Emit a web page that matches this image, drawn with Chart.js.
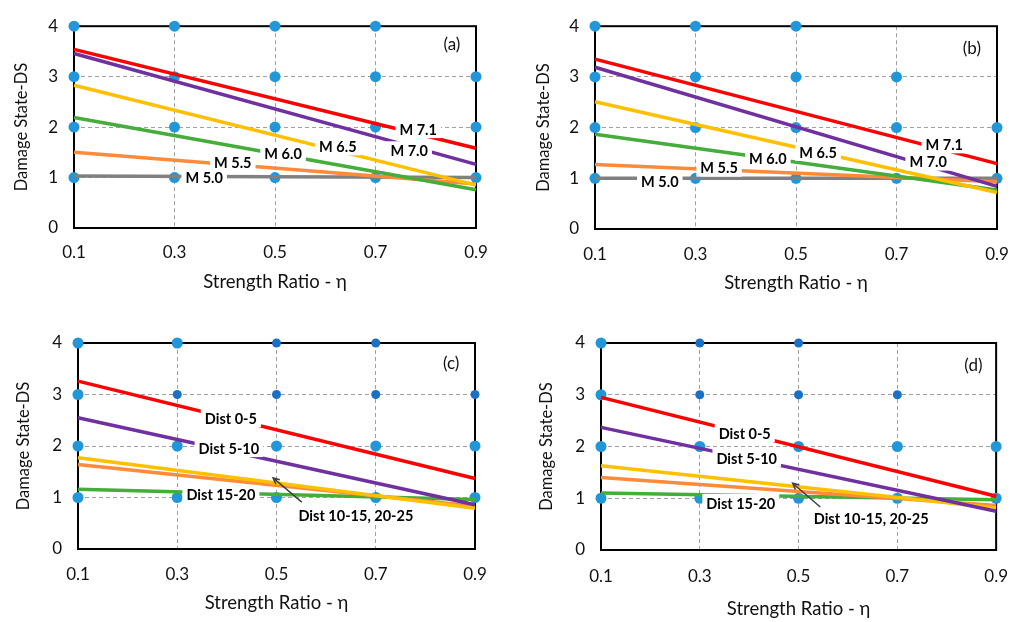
<!DOCTYPE html>
<html>
<head>
<meta charset="utf-8">
<script src="https://cdn.jsdelivr.net/npm/chart.js@4.4.0/dist/chart.umd.min.js"></script>
<style>
  body { margin: 0; background: #fff; }
  #wrap { position: relative; width: 1024px; height: 622px; }
  canvas { position: absolute; }
</style>
</head>
<body>
<div id="wrap">
  <canvas id="pa" width="512" height="311" style="left:0;top:0"></canvas>
  <canvas id="pb" width="512" height="311" style="left:512px;top:0"></canvas>
  <canvas id="pc" width="512" height="311" style="left:0;top:311px"></canvas>
  <canvas id="pd" width="512" height="311" style="left:512px;top:311px"></canvas>
</div>
<script>
Chart.defaults.font.family = "Lato, 'Open Sans', sans-serif";
Chart.defaults.color = "#111";

const etaEnds = [0.1, 0.9];
const etaTicks = [0.1, 0.3, 0.5, 0.7, 0.9];

// magnitude panels (a), (b): red, purple, yellow, green, orange, gray
const magNames = ["M 7.1", "M 7.0", "M 6.5", "M 6.0", "M 5.5", "M 5.0"];
const aStart = [3.54, 3.46, 2.83, 2.19, 1.50, 1.03];
const aEnd = [1.58, 1.26, 0.85, 0.76, 0.87, 1.00];
const bStart = [3.35, 3.19, 2.51, 1.87, 1.27, 1.00];
const bEnd = [1.29, 0.84, 0.72, 0.77, 0.93, 1.00];

// distance panels (c), (d): red, purple, yellow, orange, green
const distNames = ["Dist 0-5", "Dist 5-10", "Dist 10-15", "Dist 20-25", "Dist 15-20"];
const cStart = [3.26, 2.55, 1.77, 1.64, 1.16];
const cEnd = [1.37, 0.86, 0.79, 0.83, 0.96];
const dStart = [2.95, 2.37, 1.63, 1.40, 1.10];
const dEnd = [1.04, 0.75, 0.81, 0.86, 0.97];

// observed damage states
const aDots = [[0.1,4],[0.1,3],[0.1,2],[0.1,1],[0.3,4],[0.3,3],[0.3,2],[0.3,1],[0.5,4],[0.5,3],[0.5,2],[0.5,1],[0.7,4],[0.7,3],[0.7,2],[0.7,1],[0.9,3],[0.9,2],[0.9,1]];
const bDots = [[0.1,4],[0.1,3],[0.1,2],[0.1,1],[0.3,4],[0.3,3],[0.3,2],[0.3,1],[0.5,4],[0.5,3],[0.5,2],[0.5,1],[0.7,3],[0.7,2],[0.7,1],[0.9,2],[0.9,1]];
const cDots = [[0.1,4],[0.3,4],[0.1,3],[0.1,2],[0.3,2],[0.5,2],[0.7,2],[0.9,2],[0.1,1],[0.3,1],[0.5,1],[0.7,1],[0.9,1]];
const cDotsDark = [[0.5,4],[0.7,4],[0.3,3],[0.5,3],[0.7,3],[0.9,3]];
const dDots = [[0.1,4],[0.1,3],[0.1,2],[0.3,2],[0.5,2],[0.7,2],[0.9,2],[0.1,1],[0.3,1],[0.5,1],[0.7,1],[0.9,1]];
const dDotsDark = [[0.3,4],[0.5,4],[0.3,3],[0.5,3],[0.7,3]];

const magColors = ["#ff0000", "#7030a0", "#ffc000", "#45ad3a", "#ff8a3a", "#808080"];
const distColors = ["#ff0000", "#7030a0", "#ffc000", "#ff8a3a", "#45ad3a"];

const marks = {
  id: "marks",
  beforeDatasetsDraw(chart) {
    const { ctx, chartArea: a } = chart;
    ctx.save();
    ctx.strokeStyle = "#000";
    ctx.lineWidth = 2;
    ctx.strokeRect(a.left, a.top, a.right - a.left, a.bottom - a.top);
    ctx.restore();
  },
  afterDatasetsDraw(chart, args, opts) {
    const { ctx } = chart;
    const x = chart.scales.x, y = chart.scales.y;
    ctx.save();
    if (opts.arrow) {
      const ar = opts.arrow;
      const x0 = x.getPixelForValue(ar.from[0]), y0 = y.getPixelForValue(ar.from[1]);
      const x1 = x.getPixelForValue(ar.to[0]), y1 = y.getPixelForValue(ar.to[1]);
      const ang = Math.atan2(y1 - y0, x1 - x0);
      ctx.strokeStyle = "#404040";
      ctx.lineWidth = 1.5;
      ctx.beginPath();
      ctx.moveTo(x0, y0);
      ctx.lineTo(x1, y1);
      ctx.moveTo(x1 - 7 * Math.cos(ang - 0.45), y1 - 7 * Math.sin(ang - 0.45));
      ctx.lineTo(x1, y1);
      ctx.lineTo(x1 - 7 * Math.cos(ang + 0.45), y1 - 7 * Math.sin(ang + 0.45));
      ctx.stroke();
    }
    ctx.font = "bold 14.5px Lato";
    ctx.textAlign = "center";
    ctx.textBaseline = "middle";
    (opts.labels || []).forEach(l => {
      const px = x.getPixelForValue(l.x), py = y.getPixelForValue(l.y);
      const w = ctx.measureText(l.text).width + 8;
      ctx.fillStyle = "#fff";
      ctx.fillRect(px - w / 2, py - 9, w, 18);
      ctx.fillStyle = "#000";
      ctx.fillText(l.text, px, py + 1);
    });
    if (opts.tag) {
      ctx.font = "17px Lato";
      ctx.fillStyle = "#111";
      ctx.fillText(opts.tag.text, x.getPixelForValue(opts.tag.x), y.getPixelForValue(opts.tag.y));
    }
    ctx.restore();
  }
};

function lineSets(names, colors, starts, ends) {
  return names.map((n, i) => ({
    type: "line",
    label: n,
    data: etaEnds.map((e, k) => ({ x: e, y: k === 0 ? starts[i] : ends[i] })),
    borderColor: colors[i],
    borderWidth: 3.5,
    pointRadius: 0,
    fill: false,
    clip: false
  }));
}

function dotSet(pts, color, r) {
  return {
    type: "scatter",
    label: "obs",
    data: pts.map(p => ({ x: p[0], y: p[1] })),
    backgroundColor: color,
    borderWidth: 0,
    pointRadius: r,
    clip: false
  };
}

function makeScales(p) {
  return {
    x: {
      type: "linear",
      min: 0.1,
      max: 0.9,
      afterBuildTicks: s => { s.ticks = etaTicks.map(v => ({ value: v })); },
      afterFit: s => { s.height = p.xh; },
      ticks: { padding: p.xtp, font: { size: 17 }, color: "#111", callback: v => v.toFixed(1) },
      grid: { color: "#a0a0a0", lineWidth: 1, drawTicks: false },
      border: { display: false, dash: [4, 3] },
      title: { display: true, text: "Strength Ratio - η", font: { size: 18.5 }, color: "#111", padding: { top: 0, bottom: p.xtt } }
    },
    y: {
      min: 0,
      max: 4,
      afterFit: s => { s.width = p.yw; },
      ticks: { stepSize: 1, padding: 16, font: { size: 17 }, color: "#111" },
      grid: { color: "#a0a0a0", lineWidth: 1, drawTicks: false },
      border: { display: false, dash: [4, 3] },
      title: { display: true, text: "Damage State-DS", font: { size: 16.5 }, color: "#111", padding: { top: p.ytt, bottom: 0 } }
    }
  };
}

function makePanel(id, datasets, p, markOpts) {
  new Chart(document.getElementById(id), {
    type: "scatter",
    data: { datasets: datasets },
    options: {
      responsive: false,
      animation: false,
      layout: { padding: { left: 0, top: p.top, right: p.right, bottom: 0 } },
      scales: makeScales(p),
      plugins: { legend: { display: false }, tooltip: { enabled: false }, marks: markOpts }
    },
    plugins: [marks]
  });
}

const lightBlue = "#2196d9";
const darkBlue = "#1a70c4";

makePanel("pa",
  lineSets(magNames, magColors, aStart, aEnd).concat([dotSet(aDots, lightBlue, 5.5)]),
  { yw: 74, right: 36, top: 20, xh: 83, xtp: 14, xtt: 18, ytt: 12 },
  {
    labels: [
      { text: magNames[0], x: 0.785, y: 1.96 },
      { text: magNames[1], x: 0.767, y: 1.54 },
      { text: magNames[2], x: 0.625, y: 1.62 },
      { text: magNames[3], x: 0.516, y: 1.48 },
      { text: magNames[4], x: 0.416, y: 1.31 },
      { text: magNames[5], x: 0.359, y: 1.00 }
    ],
    tag: { text: "(a)", x: 0.852, y: 3.63 }
  });

makePanel("pb",
  lineSets(magNames, magColors, bStart, bEnd).concat([dotSet(bDots, lightBlue, 5.5)]),
  { yw: 83, right: 27, top: 18, xh: 82, xtp: 15, xtt: 17, ytt: 22 },
  {
    labels: [
      { text: magNames[0], x: 0.795, y: 1.67 },
      { text: magNames[1], x: 0.763, y: 1.33 },
      { text: magNames[2], x: 0.544, y: 1.52 },
      { text: magNames[3], x: 0.444, y: 1.40 },
      { text: magNames[4], x: 0.347, y: 1.21 },
      { text: magNames[5], x: 0.229, y: 0.95 }
    ],
    tag: { text: "(b)", x: 0.850, y: 3.56 }
  });

makePanel("pc",
  lineSets(distNames, distColors, cStart, cEnd).concat([dotSet(cDots, lightBlue, 5.5), dotSet(cDotsDark, darkBlue, 4.5)]),
  { yw: 78, right: 37, top: 32, xh: 73, xtp: 15, xtt: 8, ytt: 14 },
  {
    arrow: { from: [0.551, 0.91], to: [0.493, 1.38] },
    labels: [
      { text: distNames[0], x: 0.408, y: 2.54 },
      { text: distNames[1], x: 0.404, y: 1.96 },
      { text: distNames[4], x: 0.388, y: 1.07 },
      { text: "Dist 10-15, 20-25", x: 0.660, y: 0.66 }
    ],
    tag: { text: "(c)", x: 0.852, y: 3.61 }
  });

makePanel("pd",
  lineSets(distNames, distColors, dStart, dEnd).concat([dotSet(dDots, lightBlue, 5.5), dotSet(dDotsDark, darkBlue, 4.5)]),
  { yw: 89, right: 25, top: 32, xh: 72, xtp: 16, xtt: 2, ytt: 25 },
  {
    arrow: { from: [0.544, 0.83], to: [0.488, 1.29] },
    labels: [
      { text: distNames[0], x: 0.391, y: 2.26 },
      { text: distNames[1], x: 0.395, y: 1.78 },
      { text: distNames[4], x: 0.383, y: 0.91 },
      { text: "Dist 10-15, 20-25", x: 0.647, y: 0.62 }
    ],
    tag: { text: "(d)", x: 0.854, y: 3.56 }
  });
</script>
</body>
</html>
